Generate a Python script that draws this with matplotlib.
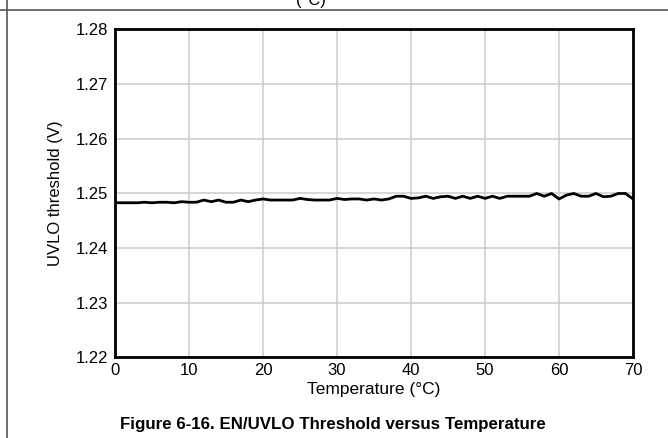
import numpy as np
import matplotlib
matplotlib.use("Agg")
import matplotlib.pyplot as plt
from matplotlib.lines import Line2D

plt.rcParams['font.family'] = ['Liberation Sans', 'DejaVu Sans']

# data (temperature in degC, threshold in V)
temperature = list(range(0, 71))
uvlo = [1.2483, 1.2483, 1.2483, 1.2483, 1.2484, 1.2483, 1.2484, 1.2484, 1.2483, 1.2485,
        1.2484, 1.2484, 1.2488, 1.2485, 1.2488, 1.2484, 1.2484, 1.2488, 1.2485, 1.2488,
        1.2490, 1.2488, 1.2488, 1.2488, 1.2488, 1.2491, 1.2489, 1.2488, 1.2488, 1.2488,
        1.2491, 1.2489, 1.2490, 1.2490, 1.2488, 1.2490, 1.2488, 1.2490, 1.2495, 1.2495,
        1.2491, 1.2492, 1.2495, 1.2491, 1.2494, 1.2495, 1.2491, 1.2495, 1.2491, 1.2495,
        1.2491, 1.2495, 1.2491, 1.2495, 1.2495, 1.2495, 1.2495, 1.2500, 1.2495, 1.2500,
        1.2490, 1.2497, 1.2500, 1.2495, 1.2495, 1.2500, 1.2494, 1.2495, 1.2500, 1.2500,
        1.2490]
xticks = [0, 10, 20, 30, 40, 50, 60, 70]
yticks = [1.22, 1.23, 1.24, 1.25, 1.26, 1.27, 1.28]

fig = plt.figure(figsize=(6.68, 4.38), dpi=100)
ax = fig.add_axes([0.1722, 0.1838, 0.7754, 0.7489])

ax.plot(temperature, uvlo, color="black", lw=2.0)

ax.set_xlim(0, 70)
ax.set_ylim(1.22, 1.28)
ax.set_xticks(xticks)
ax.set_yticks(yticks)
ax.set_yticklabels([f"{v:.2f}" for v in yticks])
ax.grid(True, color="#cccccc", lw=1.1)
ax.set_axisbelow(True)
for sp in ax.spines.values():
    sp.set_linewidth(2.0)
    sp.set_color("black")
ax.tick_params(axis="both", length=0, labelsize=12)
ax.tick_params(axis="y", pad=5)
ax.tick_params(axis="x", pad=4)

ax.set_xlabel("Temperature (°C)", fontsize=12.5, labelpad=3)
ax.set_ylabel("UVLO threshold (V)", fontsize=12, labelpad=9)

fig.text(0.4985, 0.03, "Figure 6-16. EN/UVLO Threshold versus Temperature",
         ha="center", va="center", fontsize=12.2, fontweight="bold")

# page frame fragments and the clipped caption above
fig.add_artist(Line2D([0, 1], [1 - 10 / 438, 1 - 10 / 438], color="#555555", lw=1.2))
fig.add_artist(Line2D([7 / 668, 7 / 668], [0, 1], color="#555555", lw=1.2))
fig.text(0.465, 1.0, "(°C)", ha="center", va="center", fontsize=12)

fig.savefig("out.png", dpi=100)
